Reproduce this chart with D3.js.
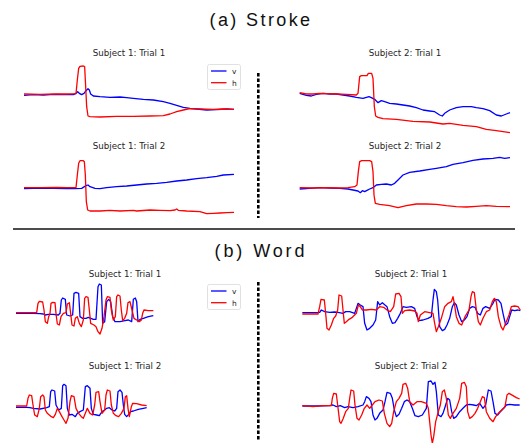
<!DOCTYPE html>
<html><head><meta charset="utf-8">
<script src="https://cdn.jsdelivr.net/npm/d3@7"></script>
<style>html,body{margin:0;padding:0;background:#fff;}svg{display:block;}</style>
</head><body>
<script>
// Eye-gaze signals: [sample index, gaze level (screen units, downward positive)]
const strokeS1T1_v = [[72,166],[100,164],[130,165],[160,163],[190,164],[220,164],[228,160],[233,155],[238,160],[245,164],[252,160],[258,152],[264,146],[268,150],[272,162],[280,168],[300,170],[330,172],[360,171],[380,173],[400,175],[430,178],[460,180],[490,185],[510,190],[530,196],[550,202],[570,205],[590,207],[620,210],[650,209],[680,207],[702,208]];
const strokeS1T1_h = [[72,162],[120,163],[170,162],[200,162],[228,161],[232,120],[236,85],[240,79],[250,78],[254,80],[256,120],[260,200],[264,228],[270,230],[300,231],[350,229],[400,229],[450,228],[490,227],[510,222],[530,215],[550,210],[570,206],[600,207],[640,208],[670,207],[702,208]];
const strokeS2T1_v = [[110,160],[130,166],[145,168],[160,163],[180,160],[200,162],[220,162],[240,165],[260,168],[280,172],[300,175],[318,170],[325,173],[335,178],[345,188],[355,182],[365,185],[380,190],[400,192],[420,195],[440,198],[460,203],[480,210],[500,213],[515,215],[530,225],[538,228],[545,220],[560,210],[580,203],[600,200],[625,200],[640,203],[660,206],[680,212],[700,225],[715,228],[730,222],[741,218]];
const strokeS2T1_h = [[110,158],[130,162],[150,162],[170,160],[190,161],[220,162],[250,163],[280,165],[285,160],[290,110],[295,107],[312,107],[316,100],[326,100],[330,115],[334,200],[338,228],[345,232],[360,236],[400,238],[450,244],[500,246],[540,252],[560,250],[600,256],[640,260],[670,268],[700,272],[741,278]];
const strokeS1T2_v = [[72,161],[100,160],[130,159],[160,160],[200,161],[225,161],[245,160],[258,152],[264,150],[270,155],[285,160],[300,161],[320,158],[350,155],[380,153],[410,150],[440,147],[470,145],[500,142],[530,138],[560,135],[590,131],[620,128],[650,124],[670,120],[702,118]];
const strokeS1T2_h = [[72,158],[120,158],[170,157],[200,158],[228,158],[232,120],[236,85],[240,77],[250,77],[253,80],[256,120],[259,200],[263,225],[270,228],[300,228],[330,226],[360,228],[400,226],[410,228],[450,225],[480,226],[510,227],[525,225],[530,222],[535,226],[560,228],[600,230],[620,236],[640,235],[660,234],[680,233],[702,232]];
const strokeS2T2_v = [[110,162],[140,160],[170,158],[200,159],[230,160],[255,162],[270,165],[285,168],[292,173],[298,167],[305,170],[312,166],[320,162],[330,158],[340,150],[355,148],[370,147],[385,150],[395,145],[405,135],[420,120],[440,112],[470,108],[500,103],[520,100],[550,95],[570,88],[600,83],[630,76],[660,72],[690,70],[710,67],[725,70],[741,68]];
const strokeS2T2_h = [[110,158],[150,159],[190,158],[230,159],[255,158],[275,155],[282,150],[286,110],[290,80],[296,77],[320,77],[326,80],[330,110],[333,180],[337,205],[350,208],[380,212],[405,218],[430,212],[460,207],[490,207],[520,208],[550,212],[580,215],[610,216],[640,214],[670,212],[700,214],[741,215]];

const wordS1T1_v = [[48,160],[100,160],[120,161],[130,162],[136,165],[145,163],[160,163],[175,165],[180,160],[184,120],[188,114],[196,118],[200,165],[210,168],[218,165],[222,100],[228,97],[236,100],[240,170],[248,175],[258,175],[265,172],[280,178],[288,178],[294,80],[298,72],[304,75],[308,190],[314,185],[320,125],[326,118],[332,125],[338,170],[345,185],[360,185],[375,182],[385,180],[395,185],[400,118],[406,114],[410,125],[414,185],[420,178],[430,175],[445,170],[460,167]];
const wordS1T1_h = [[48,158],[110,158],[114,130],[118,124],[128,126],[132,150],[136,185],[142,190],[146,170],[150,160],[153,130],[158,127],[165,128],[168,160],[172,192],[178,195],[183,170],[190,160],[198,158],[202,132],[208,128],[212,160],[216,195],[222,198],[226,175],[232,170],[238,190],[244,200],[250,180],[254,115],[258,110],[264,112],[268,150],[272,190],[282,195],[288,200],[294,215],[300,222],[306,205],[312,170],[318,120],[322,110],[330,112],[334,150],[340,180],[346,170],[350,110],[354,105],[360,108],[364,150],[368,182],[374,175],[380,160],[384,128],[390,125],[396,150],[402,175],[410,180],[418,185],[424,180],[428,160],[432,150],[445,152],[460,152]];
const wordS2T1_v = [[118,158],[160,158],[170,157],[175,150],[185,155],[200,157],[215,156],[225,157],[240,160],[248,155],[260,155],[275,160],[285,130],[292,135],[300,140],[305,190],[312,210],[320,205],[330,195],[338,180],[344,125],[350,135],[358,128],[366,135],[372,140],[380,170],[388,190],[396,188],[404,175],[412,160],[420,140],[430,142],[445,140],[455,145],[462,170],[468,182],[480,180],[495,175],[505,170],[510,120],[514,88],[520,95],[524,120],[530,200],[538,212],[545,208],[552,195],[560,175],[568,140],[574,128],[580,135],[588,165],[596,185],[604,180],[612,170],[620,145],[628,140],[636,142],[644,160],[652,165],[660,145],[668,140],[680,145],[690,130],[696,118],[706,120],[714,130],[720,160],[728,195],[734,190],[740,170],[746,150],[755,152],[765,150],[772,152]];
const wordS2T1_h = [[118,162],[165,162],[170,140],[174,118],[184,120],[188,160],[192,205],[198,210],[205,195],[212,175],[218,168],[224,150],[228,105],[236,108],[240,150],[244,190],[250,185],[258,178],[268,172],[280,160],[286,135],[292,140],[298,150],[310,150],[325,148],[340,150],[350,140],[362,142],[372,150],[382,155],[392,140],[398,102],[408,100],[414,110],[418,160],[425,152],[440,150],[455,153],[462,160],[466,185],[472,165],[485,155],[500,158],[510,160],[515,190],[520,215],[526,200],[535,175],[545,140],[555,130],[565,125],[570,110],[574,130],[580,170],[588,190],[596,195],[606,170],[618,150],[624,110],[628,95],[634,98],[640,150],[646,185],[652,195],[660,175],[670,155],[680,150],[688,125],[694,115],[700,125],[706,170],[714,200],[720,210],[728,190],[738,165],[745,140],[755,138],[765,140],[772,150]];
const wordS1T2_v = [[48,157],[80,157],[90,158],[100,160],[120,162],[140,158],[148,155],[152,110],[156,105],[164,108],[168,150],[176,165],[184,160],[188,92],[192,88],[198,92],[202,160],[208,180],[216,178],[226,185],[232,175],[240,170],[250,165],[256,95],[262,92],[270,100],[274,160],[280,178],[290,180],[298,182],[306,170],[314,165],[320,160],[328,158],[336,165],[344,168],[350,160],[354,110],[360,105],[366,112],[370,150],[374,178],[380,185],[386,178],[392,170],[400,168],[415,163],[430,160],[440,158]];
const wordS1T2_h = [[48,153],[80,153],[84,130],[88,120],[95,122],[99,150],[104,180],[112,185],[118,160],[122,125],[128,120],[132,125],[136,165],[142,175],[148,180],[154,185],[160,188],[166,178],[172,160],[178,170],[186,185],[192,195],[198,205],[204,190],[210,140],[214,122],[222,125],[228,160],[236,175],[244,185],[250,190],[256,175],[262,160],[270,175],[278,180],[284,150],[288,112],[296,110],[300,140],[306,175],[314,165],[318,120],[322,105],[330,108],[334,150],[340,175],[348,182],[356,185],[364,175],[372,160],[376,125],[380,122],[384,160],[388,185],[394,155],[398,145],[410,146],[425,150],[440,152]];
const wordS2T2_v = [[118,153],[160,153],[200,152],[210,150],[220,155],[232,152],[245,158],[255,155],[270,158],[285,155],[300,150],[305,140],[310,125],[318,130],[324,140],[330,180],[336,195],[342,190],[350,175],[360,165],[366,140],[372,112],[382,115],[388,130],[394,165],[400,185],[408,178],[416,160],[424,140],[432,135],[440,140],[448,160],[456,182],[466,185],[478,180],[490,160],[496,80],[504,78],[510,88],[516,82],[520,110],[526,180],[534,185],[540,175],[548,150],[554,130],[560,135],[566,170],[572,190],[580,185],[590,170],[600,160],[610,150],[620,148],[632,150],[640,152],[650,145],[660,160],[668,150],[676,105],[684,108],[690,140],[696,175],[704,180],[712,170],[722,160],[730,150],[740,148],[755,150],[770,150]];
const wordS2T2_h = [[118,152],[150,155],[180,152],[205,152],[208,130],[212,115],[220,117],[224,150],[230,200],[234,205],[240,192],[248,170],[256,160],[260,130],[264,105],[272,108],[276,150],[282,190],[288,195],[296,180],[304,160],[312,150],[320,160],[328,150],[336,140],[348,135],[358,138],[364,175],[372,205],[380,215],[386,205],[392,170],[400,140],[408,130],[416,115],[420,88],[428,85],[434,100],[440,140],[450,150],[462,140],[475,140],[490,145],[496,160],[500,200],[504,240],[508,265],[512,245],[518,200],[526,170],[532,150],[538,110],[544,105],[550,130],[556,180],[562,190],[570,175],[580,160],[590,130],[596,85],[604,82],[610,95],[614,170],[620,190],[628,185],[636,175],[644,160],[652,140],[658,125],[664,128],[670,170],[680,190],[690,200],[698,185],[706,175],[716,165],[726,155],[732,120],[738,115],[750,122],[760,128],[770,132]];

const sectionTitles = ["(a) Stroke", "(b) Word"];
const panelTitles = ["Subject 1: Trial 1", "Subject 2: Trial 1", "Subject 1: Trial 2", "Subject 2: Trial 2"];
const seriesNames = ["v", "h"];
const seriesColors = ["#0000ff", "#ff0000"];

const W = 526, H = 443;
const svg = d3.select("body").append("svg").attr("width", W).attr("height", H);

// panel frames: [left, top] of a 263x90 frame; samples 0..789, gaze 0..270
const panels = [
  {frame:[0,40],  title:panelTitles[0], tx:129, ty:56,  v:strokeS1T1_v, h:strokeS1T1_h, legend:true},
  {frame:[263,40],title:panelTitles[1], tx:405, ty:56,  v:strokeS2T1_v, h:strokeS2T1_h},
  {frame:[0,135], title:panelTitles[2], tx:129, ty:149, v:strokeS1T2_v, h:strokeS1T2_h},
  {frame:[263,135],title:panelTitles[3],tx:405, ty:149, v:strokeS2T2_v, h:strokeS2T2_h},
  {frame:[0,260], title:panelTitles[0], tx:125, ty:277, v:wordS1T1_v, h:wordS1T1_h, legend:true},
  {frame:[263,260],title:panelTitles[1],tx:411, ty:277, v:wordS2T1_v, h:wordS2T1_h},
  {frame:[0,355], title:panelTitles[2], tx:125, ty:369, v:wordS1T2_v, h:wordS1T2_h},
  {frame:[263,355],title:panelTitles[3],tx:411, ty:369, v:wordS2T2_v, h:wordS2T2_h}
];

panels.forEach(p => {
  const [fx, fy] = p.frame;
  const x = d3.scaleLinear().domain([0, 789]).range([fx, fx + 263]);
  const y = d3.scaleLinear().domain([0, 270]).range([fy, fy + 90]);
  const line = d3.line().x(d => x(d[0])).y(d => y(d[1]));
  [p.v, p.h].forEach((s, i) => {
    svg.append("path").datum(s).attr("d", line)
      .attr("fill", "none").attr("stroke", seriesColors[i])
      .attr("stroke-width", 1.3).attr("stroke-linejoin", "round");
  });
  svg.append("text").attr("x", p.tx).attr("y", p.ty).attr("text-anchor", "middle")
    .attr("font-family", "DejaVu Sans").attr("font-size", 8.7).attr("fill", "#262626")
    .text(p.title);
  if (p.legend) {
    const g = svg.append("g").attr("transform", `translate(${fx + 207.5},${fy + 24.5})`);
    g.append("rect").attr("width", 33).attr("height", 25).attr("rx", 2)
      .attr("fill", "#fff").attr("stroke", "#d9d9d9").attr("stroke-width", 0.8);
    seriesNames.forEach((n, i) => {
      const yy = 6.5 + i * 11.7;
      g.append("line").attr("x1", 3.5).attr("x2", 19).attr("y1", yy).attr("y2", yy)
        .attr("stroke", seriesColors[i]).attr("stroke-width", 1.3);
      g.append("text").attr("x", 24.5).attr("y", yy + 2.8)
        .attr("font-family", "DejaVu Sans").attr("font-size", 7.5).attr("fill", "#262626")
        .text(n);
    });
  }
});

// section titles
[[25.5, 0], [257, 1]].forEach(([yy, i]) => {
  svg.append("text").attr("x", 261).attr("y", yy).attr("text-anchor", "middle")
    .attr("font-family", "Liberation Sans, Arial, sans-serif").attr("font-size", 18)
    .attr("letter-spacing", i === 0 ? 2.4 : 2.9).attr("fill", "#111")
    .text(sectionTitles[i]);
});

// separator
svg.append("line").attr("x1", 13).attr("x2", 515).attr("y1", 229).attr("y2", 229)
  .attr("stroke", "#111").attr("stroke-width", 1.5);

// dashed dividers
[[73, 218], [282, 441]].forEach(([a, b]) => {
  svg.append("line").attr("x1", 258.3).attr("x2", 258.3).attr("y1", a).attr("y2", b)
    .attr("stroke", "#000").attr("stroke-width", 2.6).attr("stroke-dasharray", "3.6,1.9");
});
</script>
</body></html>
